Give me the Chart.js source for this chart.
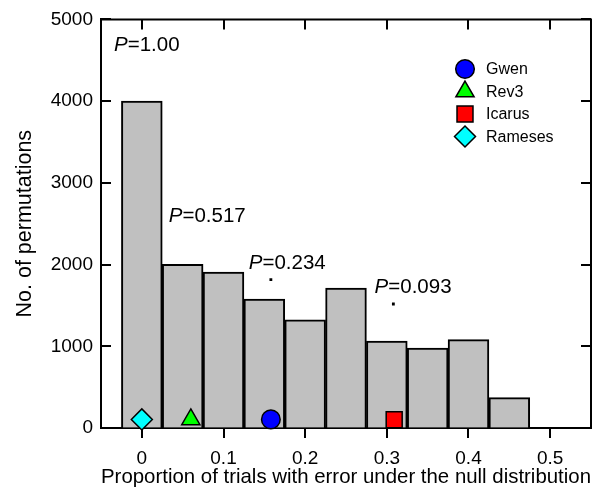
<!DOCTYPE html>
<html>
<head>
<meta charset="utf-8">
<script src="https://cdn.jsdelivr.net/npm/chart.js@4"></script>
<style>
  html, body { margin: 0; padding: 0; background: #fff; }
  #wrap { width: 615px; height: 487px; }
</style>
</head>
<body>
<div id="wrap"><canvas id="chart"></canvas></div>
<script>
const FONT = '"Liberation Sans", Arial, Helvetica, sans-serif';

// histogram of the null distribution (bin centres, counts)
const binCentres = [0, 0.05, 0.1, 0.15, 0.2, 0.25, 0.3, 0.35, 0.4, 0.45];
const binCounts = [4000, 2003, 1909, 1578, 1325, 1713, 1064, 979, 1081, 372];

// observed proportions for each subject
const subjects = ['Gwen', 'Rev3', 'Icarus', 'Rameses'];
const subjectX = [0.158, 0.060, 0.309, 0.0];
const subjectY = [105, 105, 100, 105];
const subjectColors = ['#0000ff', '#00ff00', '#ff0000', '#00ffff'];
const subjectShapes = ['circle', 'triangle', 'rect', 'rectRot'];
const subjectRadius = [9.3, 10.5, 11.3, 10.5];

// stray dots above two subjects
const dotX = [0.158, 0.308];
const dotY = [1815, 1517];

// p-value labels, anchored at (x, y) in data units
const pTexts = ['1.00', '0.517', '0.234', '0.093'];
const pX = [-0.034, 0.033, 0.131, 0.285];
const pY = [4687, 2586, 2016, 1717];

const xTicks = [0, 0.1, 0.2, 0.3, 0.4, 0.5];
const yTicks = [0, 1000, 2000, 3000, 4000, 5000];

const datasets = [];
subjects.forEach(function (name, i) {
    datasets.push({
        type: 'scatter',
        label: name,
        data: [{x: subjectX[i], y: subjectY[i]}],
        pointStyle: subjectShapes[i],
        pointRadius: subjectRadius[i],
        pointHoverRadius: subjectRadius[i],
        backgroundColor: subjectColors[i],
        borderColor: '#000',
        borderWidth: 1.5,
        order: 0,
        clip: false
    });
});
datasets.push({
    type: 'scatter',
    label: 'dots',
    data: dotX.map((x, i) => ({x: x, y: dotY[i]})),
    pointStyle: 'rect',
    pointRadius: 2,
    backgroundColor: '#000',
    borderColor: '#000',
    borderWidth: 0,
    order: 0
});
datasets.push({
    type: 'bar',
    label: 'null',
    data: binCentres.map((x, i) => ({x: x, y: binCounts[i]})),
    backgroundColor: '#c0c0c0',
    borderColor: '#000',
    borderWidth: 2,
    borderSkipped: 'start',
    barPercentage: 1.0,
    categoryPercentage: 1.0,
    order: 2
});

// box, inward ticks, p labels and legend
const extras = {
    id: 'extras',
    afterDatasetsDraw(chart) {
        const ctx = chart.ctx;
        const a = chart.chartArea;
        const xs = chart.scales.x, ys = chart.scales.y;
        const tl = 10;
        ctx.save();
        ctx.strokeStyle = '#000';
        ctx.lineWidth = 2;
        ctx.beginPath();
        ctx.moveTo(a.left, a.top); ctx.lineTo(a.right, a.top); ctx.lineTo(a.right, a.bottom);
        xTicks.forEach(function (v) {
            const px = Math.round(xs.getPixelForValue(v));
            ctx.moveTo(px, a.top); ctx.lineTo(px, a.top + tl);
        });
        yTicks.forEach(function (v) {
            const py = Math.round(ys.getPixelForValue(v));
            ctx.moveTo(a.right, py); ctx.lineTo(a.right - tl, py);
            ctx.moveTo(a.left, py); ctx.lineTo(a.left + tl, py);
        });
        ctx.stroke();

        ctx.fillStyle = '#000';
        ctx.textBaseline = 'middle';
        ctx.textAlign = 'left';
        pTexts.forEach(function (t, i) {
            let px = xs.getPixelForValue(pX[i]);
            const py = ys.getPixelForValue(pY[i]);
            ctx.font = 'italic 20.5px ' + FONT;
            ctx.fillText('P', px, py);
            px += ctx.measureText('P').width;
            ctx.font = '20.5px ' + FONT;
            ctx.fillText('=' + t, px, py);
        });

        ctx.font = '16px ' + FONT;
        subjects.forEach(function (name, i) {
            const ly = 69 + i * 22.5;
            ctx.fillStyle = subjectColors[i];
            ctx.strokeStyle = '#000';
            ctx.lineWidth = 1.5;
            Chart.helpers.drawPoint(ctx, {pointStyle: subjectShapes[i], radius: subjectRadius[i], rotation: 0, borderWidth: 1.5}, 465, ly);
            ctx.fillStyle = '#000';
            ctx.fillText(name, 486, ly + 1);
        });
        ctx.restore();
    }
};

new Chart(document.getElementById('chart'), {
    type: 'scatter',
    data: {datasets: datasets},
    options: {
        responsive: true,
        maintainAspectRatio: false,
        animation: false,
        events: [],
        layout: {padding: {top: 19, right: 24, left: 0, bottom: 0}},
        plugins: {legend: {display: false}, tooltip: {enabled: false}},
        scales: {
            x: {
                type: 'linear',
                min: -0.05,
                max: 0.55,
                offset: false,
                afterBuildTicks: function (scale) {
                    scale.ticks = xTicks.map(v => ({value: v}));
                },
                afterFit: function (scale) { scale.height = 59; },
                ticks: {
                    color: '#000',
                    font: {family: FONT, size: 19},
                    padding: 9,
                    maxRotation: 0,
                    callback: v => String(v)
                },
                grid: {drawOnChartArea: false, drawTicks: true, tickLength: 10, color: '#000', lineWidth: 2, offset: false},
                border: {display: true, color: '#000', width: 2},
                title: {
                    display: true,
                    text: 'Proportion of trials with error under the null distribution',
                    color: '#000',
                    font: {family: FONT, size: 20.6},
                    padding: {top: 0, bottom: -3}
                }
            },
            y: {
                type: 'linear',
                min: 0,
                max: 5000,
                afterBuildTicks: function (scale) {
                    scale.ticks = yTicks.map(v => ({value: v}));
                },
                afterFit: function (scale) { scale.width = 101; },
                ticks: {
                    color: '#000',
                    font: {family: FONT, size: 19},
                    padding: 8,
                    callback: v => String(v)
                },
                grid: {drawOnChartArea: false, drawTicks: false},
                border: {display: true, color: '#000', width: 2},
                title: {
                    display: true,
                    text: 'No. of permutations',
                    color: '#000',
                    font: {family: FONT, size: 21.5},
                    padding: {top: 12, bottom: 0}
                }
            }
        }
    },
    plugins: [extras]
});
</script>
</body>
</html>
